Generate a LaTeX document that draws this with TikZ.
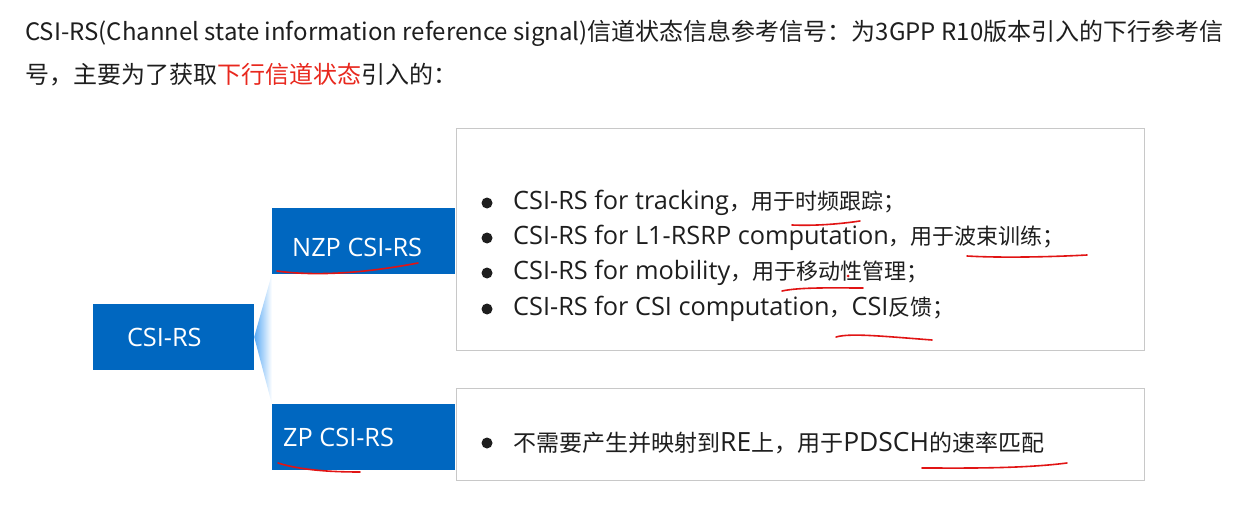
\documentclass[tikz,border=0pt]{standalone}
\usepackage{fontspec}
\setmainfont{Noto Sans CJK SC}
\newfontfamily\latfont{Open Sans}[Scale=1.15]
\newcommand{\lat}[1]{{\latfont #1}}
\usepackage{tikz}
\usetikzlibrary{positioning}
\definecolor{boxblue}{RGB}{0,103,192}
\definecolor{wedgeblue}{RGB}{90,170,245}
\definecolor{panelgray}{RGB}{200,200,200}
\definecolor{hilite}{RGB}{232,40,30}
\definecolor{pen}{RGB}{225,20,20}
\definecolor{ink}{RGB}{30,30,30}
\tikzset{
  cbox/.style={fill=boxblue, draw=none, inner sep=0pt, text=white,
               font=\fontsize{22}{26}\selectfont},
  boxtxt/.style={text=white, inner sep=0pt, font=\fontsize{22}{26}\selectfont},
  panel/.style={draw=panelgray, line width=1.2pt, fill=white, inner sep=0pt},
  dot/.style={circle, fill=ink, inner sep=0pt, minimum size=11pt},
  item/.style={anchor=west, inner sep=0pt, text=ink, font=\fontsize{22}{26}\selectfont},
  head/.style={anchor=west, inner sep=0pt, text=ink, font=\fontsize{24}{28}\selectfont},
  redpen/.style={draw=pen, line width=1.6pt, line cap=round},
}

\begin{document}
\begin{tikzpicture}[x=1pt, y=-1pt]
  \useasboundingbox (0,0) rectangle (1255,524);
  % heading
  \node[head] (line1) at (25,33) {CSI-RS(Channel state information reference signal)信道状态信息参考信号：为3GPP R10版本引入的下行参考信};
  \node[head] (line2) at (25,75) {号，主要为了获取\textcolor{hilite}{下行信道状态}引入的：};
  % tree
  \node[cbox, minimum width=161pt, minimum height=66pt, inner xsep=34pt, text width=93pt, align=left] (csi) at (173.5,337) {\lat{CSI-RS}};
  \node[cbox, minimum width=183pt, minimum height=66pt] (nzp) at (363.5,241) {};
  \node[cbox, minimum width=183pt, minimum height=66pt] (zp) at (363.5,437) {};
  \node[boxtxt, anchor=west] (nzptxt) at (292,247) {\lat{NZP CSI-RS}};
  \node[boxtxt, anchor=west] (zptxt) at (283,437) {\lat{ZP CSI-RS}};
  \shade[left color=wedgeblue, right color=white] (csi.east) -- (nzp.south west) -- (zp.north west) -- cycle;
  % panels
  \node[panel, anchor=north west, minimum width=688pt, minimum height=222pt] (nzpbox) at (456,128) {};
  \node[panel, anchor=north west, minimum width=688pt, minimum height=92pt] (zpbox) at (456,388) {};
  \node[dot] (d1) at (487,203) {};
  \node[dot] (d2) at (487,238) {};
  \node[dot] (d3) at (487,273) {};
  \node[dot] (d4) at (487,309) {};
  \node[dot] (d5) at (487,443) {};
  \node[item] (i1) at (513,203) {\lat{CSI-RS for tracking}，用于时频跟踪；};
  \node[item] (i2) at (513,238) {\lat{CSI-RS for L1-RSRP computation}，用于波束训练；};
  \node[item] (i3) at (513,273) {\lat{CSI-RS for mobility}，用于移动性管理；};
  \node[item] (i4) at (513,309) {\lat{CSI-RS for CSI computation}，\lat{CSI}反馈；};
  \node[item, font=\fontsize{23}{27}\selectfont] (i5) at (513,443) {不需要产生并映射到\lat{RE}上，用于\lat{PDSCH}的速率匹配};
  % hand-drawn underlines
  \draw[redpen] (277,271) .. controls (313,276) and (360,274) .. (418,263);
  \draw[redpen] (278,463) .. controls (300,470) and (330,472) .. (360,472);
  \draw[redpen] (792,225) .. controls (815,226) and (840,224) .. (860,221);
  \draw[redpen] (967,256) .. controls (1000,258) and (1050,257) .. (1087,255);
  \draw[redpen] (782,291) .. controls (800,287) and (835,288) .. (863,288);
  \fill[pen] (848,276) circle (1.5pt);
  \draw[redpen] (836,337) .. controls (850,333) and (880,336) .. (932,340);
  \draw[redpen] (922,468) .. controls (960,468) and (1020,469) .. (1067,463);
\end{tikzpicture}
\end{document}
